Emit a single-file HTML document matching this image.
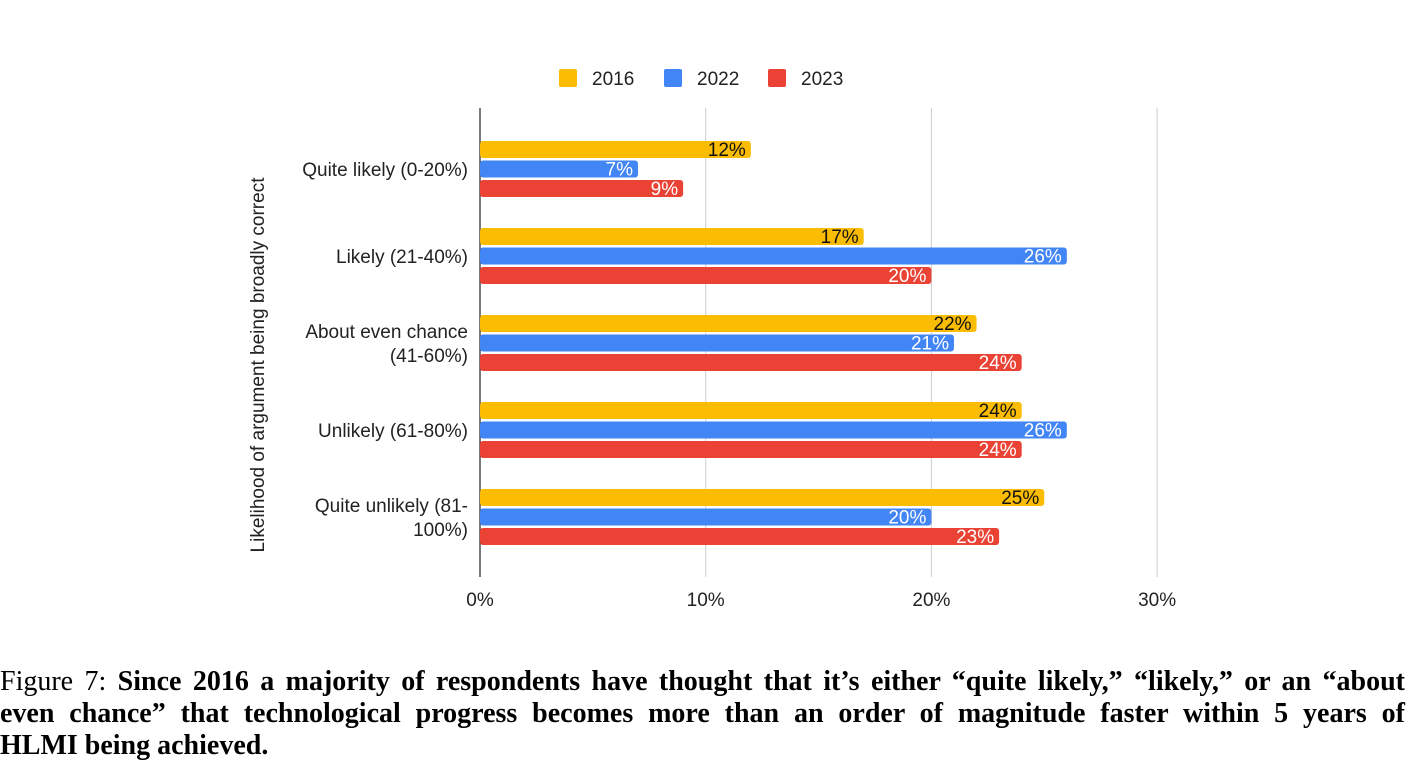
<!DOCTYPE html>
<html><head><meta charset="utf-8"><style>
body{margin:0;background:#fff;width:1423px;height:783px;overflow:hidden;font-family:"Liberation Sans",sans-serif}
#cap{position:absolute;left:0;top:666px;width:1405px;font-family:"Liberation Serif",serif;font-size:28px;line-height:32px;color:#000}
#cap .j{text-align:justify;text-align-last:justify;white-space:nowrap}
</style></head><body>
<svg id="chart" width="1423" height="650" style="position:absolute;left:0;top:0"></svg>
<div id="cap"><div class="j">Figure 7: <b>Since 2016 a majority of respondents have thought that it’s either “quite likely,” “likely,” or an “about</b></div><div class="j"><b>even chance” that technological progress becomes more than an order of magnitude faster within 5 years of</b></div><div><b>HLMI being achieved.</b></div></div>
<script>
const categories=[["Quite likely (0-20%)"],["Likely (21-40%)"],["About even chance","(41-60%)"],["Unlikely (61-80%)"],["Quite unlikely (81-","100%)"]];
const seriesNames=["2016","2022","2023"];
const v2016=[12,17,22,24,25];
const v2022=[7,26,21,26,20];
const v2023=[9,20,24,24,23];
const ticks=[0,10,20,30];
const colors=["#fbbc04","#4285f4","#ea4335"];
const series=[v2016,v2022,v2023];
const NS="http://www.w3.org/2000/svg";
const svg=document.getElementById('chart');
const x=v=>480+v*22.57;
const gy=i=>169+i*87;
const FS=19;
function mk(t,a,p){const e=document.createElementNS(NS,t);for(const k in a)e.setAttribute(k,a[k]);(p||svg).appendChild(e);return e;}
ticks.forEach(t=>{
  if(t>0){const l=mk('line',{x1:x(t),x2:x(t),y1:108,y2:577,stroke:'#ccc','stroke-width':1});
  
  }
  const tx=mk('text',{x:x(t),y:606,'text-anchor':'middle','font-size':FS,fill:'#222'});tx.textContent=t+'%';
  
  
});
const ax=mk('line',{x1:480,x2:480,y1:108,y2:577,stroke:'#333','stroke-width':1.3});


categories.forEach((c,i)=>{
  const t=mk('text',{'text-anchor':'end','font-size':FS,fill:'#222'});
  
  
  c.forEach((s,j)=>{const ts=mk('tspan',{x:468,y:gy(i)+7+(j-(c.length-1)/2)*24},t);ts.textContent=s;});
  series.forEach((sv,k)=>{
    const y=gy(i)-28+k*19.5;
    const r=mk('rect',{x:480,y:y,width:x(sv[i])-480,height:17,rx:3,fill:colors[k]});
    
    
    const lb=mk('text',{x:x(sv[i])-5,y:y+15,'text-anchor':'end','font-size':FS,fill:k==0?'#111':'#fff',stroke:colors[k],'stroke-width':3,'paint-order':'stroke'});
    lb.textContent=sv[i]+'%';
    
    
  });
});
const lx=[559,664,768];
seriesNames.forEach((n,k)=>{
  const g=mk('g',{});
  
  
  mk('rect',{x:lx[k],y:69,width:18,height:18,rx:2,fill:colors[k]},g);
  const t=mk('text',{x:lx[k]+33,y:85,'font-size':FS,fill:'#222'},g);t.textContent=n;
});
const yt=mk('text',{x:0,y:0,'font-size':FS,fill:'#222','text-anchor':'middle',transform:'translate(264,365) rotate(-90)'});
yt.textContent='Likelihood of argument being broadly correct';


</script>
</body></html>
